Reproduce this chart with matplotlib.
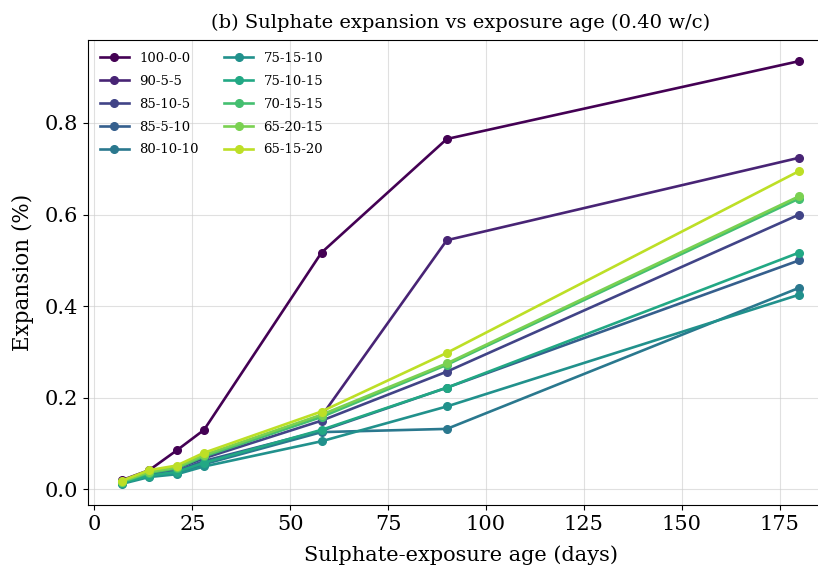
import matplotlib
matplotlib.use("Agg")
import matplotlib.pyplot as plt
import numpy as np

plt.rcParams['font.family'] = ['DejaVu Serif']

# exposure ages (days)
days = [7, 14, 21, 28, 58, 90, 180]

# mix labels
mixes = ["100-0-0", "90-5-5", "85-10-5", "85-5-10", "80-10-10",
         "75-15-10", "75-10-15", "70-15-15", "65-20-15", "65-15-20"]

# expansion (%) per mix
exp_100_0_0 = [0.020, 0.042, 0.085, 0.130, 0.517, 0.765, 0.935]
exp_90_5_5 = [0.018, 0.038, 0.048, 0.072, 0.160, 0.544, 0.724]
exp_85_10_5 = [0.017, 0.036, 0.045, 0.068, 0.150, 0.257, 0.600]
exp_85_5_10 = [0.015, 0.032, 0.040, 0.062, 0.128, 0.222, 0.500]
exp_80_10_10 = [0.014, 0.030, 0.036, 0.055, 0.125, 0.132, 0.440]
exp_75_15_10 = [0.012, 0.027, 0.033, 0.050, 0.105, 0.181, 0.425]
exp_75_10_15 = [0.014, 0.030, 0.038, 0.058, 0.130, 0.222, 0.517]
exp_70_15_15 = [0.016, 0.036, 0.046, 0.072, 0.158, 0.272, 0.635]
exp_65_20_15 = [0.017, 0.038, 0.048, 0.075, 0.163, 0.275, 0.640]
exp_65_15_20 = [0.019, 0.042, 0.052, 0.080, 0.170, 0.298, 0.695]

series = [exp_100_0_0, exp_90_5_5, exp_85_10_5, exp_85_5_10, exp_80_10_10,
          exp_75_15_10, exp_75_10_15, exp_70_15_15, exp_65_20_15, exp_65_15_20]

colors = plt.cm.viridis(np.linspace(0, 0.9, len(mixes)))

fig = plt.figure(figsize=(8.18, 5.70), dpi=100)
# right edge of the axes runs past the figure, as in the reference crop
ax = fig.add_axes([88 / 818, 1 - 505 / 570, 745 / 818, 465 / 570])

for name, vals, c in zip(mixes, series, colors):
    ax.plot(days, vals, marker='o', markersize=5.5, linewidth=1.9, color=c, label=name)

ax.set_title("(b) Sulphate expansion vs exposure age (0.40 w/c)", fontsize=14, pad=9)
ax.set_xlabel("Sulphate-exposure age (days)", fontsize=15, labelpad=8)
ax.set_ylabel("Expansion (%)", fontsize=15.5, labelpad=8)
ax.tick_params(labelsize=15)
ax.set_xticks([0, 25, 50, 75, 100, 125, 150, 175])
ax.set_yticks([0.0, 0.2, 0.4, 0.6, 0.8])
ax.grid(True, color='#cccccc', alpha=0.6, linewidth=0.8)
ax.legend(ncol=2, fontsize=9.5, frameon=False, loc='upper left',
          columnspacing=1.9, handlelength=2.2, labelspacing=0.75)

fig.savefig("out.png", dpi=100)
